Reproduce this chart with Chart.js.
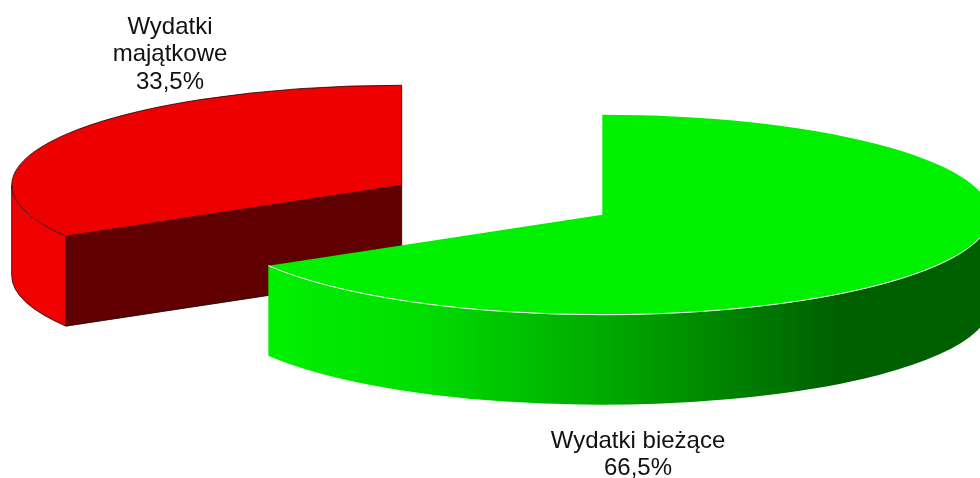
<!DOCTYPE html>
<html>
<head>
<meta charset="utf-8">
<style>
  html, body { margin: 0; padding: 0; background: #fff; overflow: hidden; }
  canvas { display: block; }
</style>
<script src="https://cdn.jsdelivr.net/npm/chart.js@4/dist/chart.umd.min.js"></script>
</head>
<body>
<canvas id="pieChart" width="980" height="478"></canvas>
<script>
const categories = [['Wydatki bieżące'], ['Wydatki', 'majątkowe']];
const shares = [66.5, 33.5];

const SQUASH = 100 / 388;   // tilt of the pie
const DEPTH = 90;           // height of the walls
const EXPLODE = 115.5;      // how far each slice is pulled out
const RED_WIDEN = 390 / 388; // the red slice is a touch wider in the original

const percentText = (value) => `${value.toFixed(1).replace('.', ',')}%`;

// centre of a slice on screen, after explosion and tilt
const sliceCenter = (arc) => {
  const mid = (arc.startAngle + arc.endAngle) / 2;
  return {
    x: arc.x + Math.cos(mid) * EXPLODE,
    y: arc.y + Math.sin(mid) * EXPLODE * SQUASH
  };
};

const greenWall = (ctx) => {
  const g = ctx.createLinearGradient(268, 0, 980, 0);
  g.addColorStop(0, '#00f000');
  g.addColorStop(0.2, '#00e000');
  g.addColorStop(0.5, '#00a400');
  g.addColorStop(0.8, '#006000');
  g.addColorStop(1, '#006000');
  return g;
};

// outer wall, only the part of the rim facing the viewer
const rimWallPath = (ctx, arc, rx) => {
  const c = sliceCenter(arc);
  const ry = arc.outerRadius * SQUASH;
  const from = Math.max(arc.startAngle, 0);
  const to = Math.min(arc.endAngle, Math.PI);
  ctx.beginPath();
  ctx.ellipse(c.x, c.y, rx, ry, 0, from, to);
  ctx.ellipse(c.x, c.y + DEPTH, rx, ry, 0, to, from, true);
  ctx.closePath();
};

// the slice top is the library's own arc, moved and flattened
const drawTop = (ctx, arc, rx) => {
  const c = sliceCenter(arc);
  ctx.save();
  ctx.translate(c.x, c.y);
  ctx.scale(rx / arc.outerRadius, SQUASH);
  ctx.translate(-arc.x, -arc.y);
  arc.draw(ctx);
  ctx.restore();
};

const drawRed = (ctx, arc) => {
  const c = sliceCenter(arc);
  const rx = arc.outerRadius * RED_WIDEN;
  const ry = arc.outerRadius * SQUASH;
  const p = { x: c.x + Math.cos(arc.startAngle) * rx, y: c.y + Math.sin(arc.startAngle) * ry };
  const left = { x: c.x - rx, y: c.y };

  // cut face, the only one turned to the viewer
  ctx.beginPath();
  ctx.moveTo(c.x, c.y);
  ctx.lineTo(p.x, p.y);
  ctx.lineTo(p.x, p.y + DEPTH);
  ctx.lineTo(c.x, c.y + DEPTH);
  ctx.closePath();
  ctx.fillStyle = '#600000';
  ctx.fill();

  rimWallPath(ctx, arc, rx);
  ctx.fillStyle = '#f00000';
  ctx.fill();

  drawTop(ctx, arc, rx);

  ctx.strokeStyle = '#1a0000';
  ctx.lineWidth = 0.8;
  ctx.beginPath();
  ctx.moveTo(c.x, c.y + DEPTH);
  ctx.lineTo(c.x, c.y);
  ctx.lineTo(p.x, p.y);
  ctx.lineTo(p.x, p.y + DEPTH);
  ctx.moveTo(p.x, p.y);
  ctx.ellipse(c.x, c.y, rx, ry, 0, arc.startAngle, arc.endAngle);
  ctx.lineTo(c.x, c.y);
  ctx.moveTo(left.x, left.y);
  ctx.lineTo(left.x, left.y + DEPTH);
  ctx.ellipse(c.x, c.y + DEPTH, rx, ry, 0, Math.PI, arc.startAngle, true);
  ctx.lineTo(c.x, c.y + DEPTH);
  ctx.stroke();
};

const drawGreen = (ctx, arc) => {
  const c = sliceCenter(arc);
  const rx = arc.outerRadius;

  rimWallPath(ctx, arc, rx);
  ctx.fillStyle = greenWall(ctx);
  ctx.fill();

  drawTop(ctx, arc, rx);

  ctx.strokeStyle = '#ffffff';
  ctx.lineWidth = 1;
  ctx.beginPath();
  ctx.ellipse(c.x, c.y, rx, rx * SQUASH, 0, 0, arc.endAngle);
  ctx.stroke();
};

const pie3d = {
  id: 'pie3d',
  // replaces the flat drawing of the dataset
  beforeDatasetDraw(chart) {
    const [green, red] = chart.getDatasetMeta(0).data;
    drawRed(chart.ctx, red);
    drawGreen(chart.ctx, green);
    return false;
  },
  afterDraw(chart) {
    const ctx = chart.ctx;
    const spots = [{ x: 638, y: 441 }, { x: 170, y: 27 }];
    ctx.save();
    ctx.font = '24px "Liberation Sans", Arial, sans-serif';
    ctx.fillStyle = '#111111';
    ctx.textAlign = 'center';
    ctx.textBaseline = 'middle';
    categories.forEach((lines, i) => {
      [...lines, percentText(shares[i])].forEach((line, n) => {
        ctx.fillText(line, spots[i].x, spots[i].y + n * 27.5);
      });
    });
    ctx.restore();
  }
};

new Chart(document.getElementById('pieChart'), {
  type: 'pie',
  data: {
    labels: categories,
    datasets: [{
      data: shares,
      backgroundColor: ['#00f000', '#ee0000'],
      borderWidth: 0,
      radius: 388
    }]
  },
  options: {
    responsive: false,
    animation: false,
    layout: { padding: { left: 24, bottom: 78 } },
    plugins: {
      legend: { display: false },
      tooltip: { enabled: false }
    }
  },
  plugins: [pie3d]
});
</script>
</body>
</html>
